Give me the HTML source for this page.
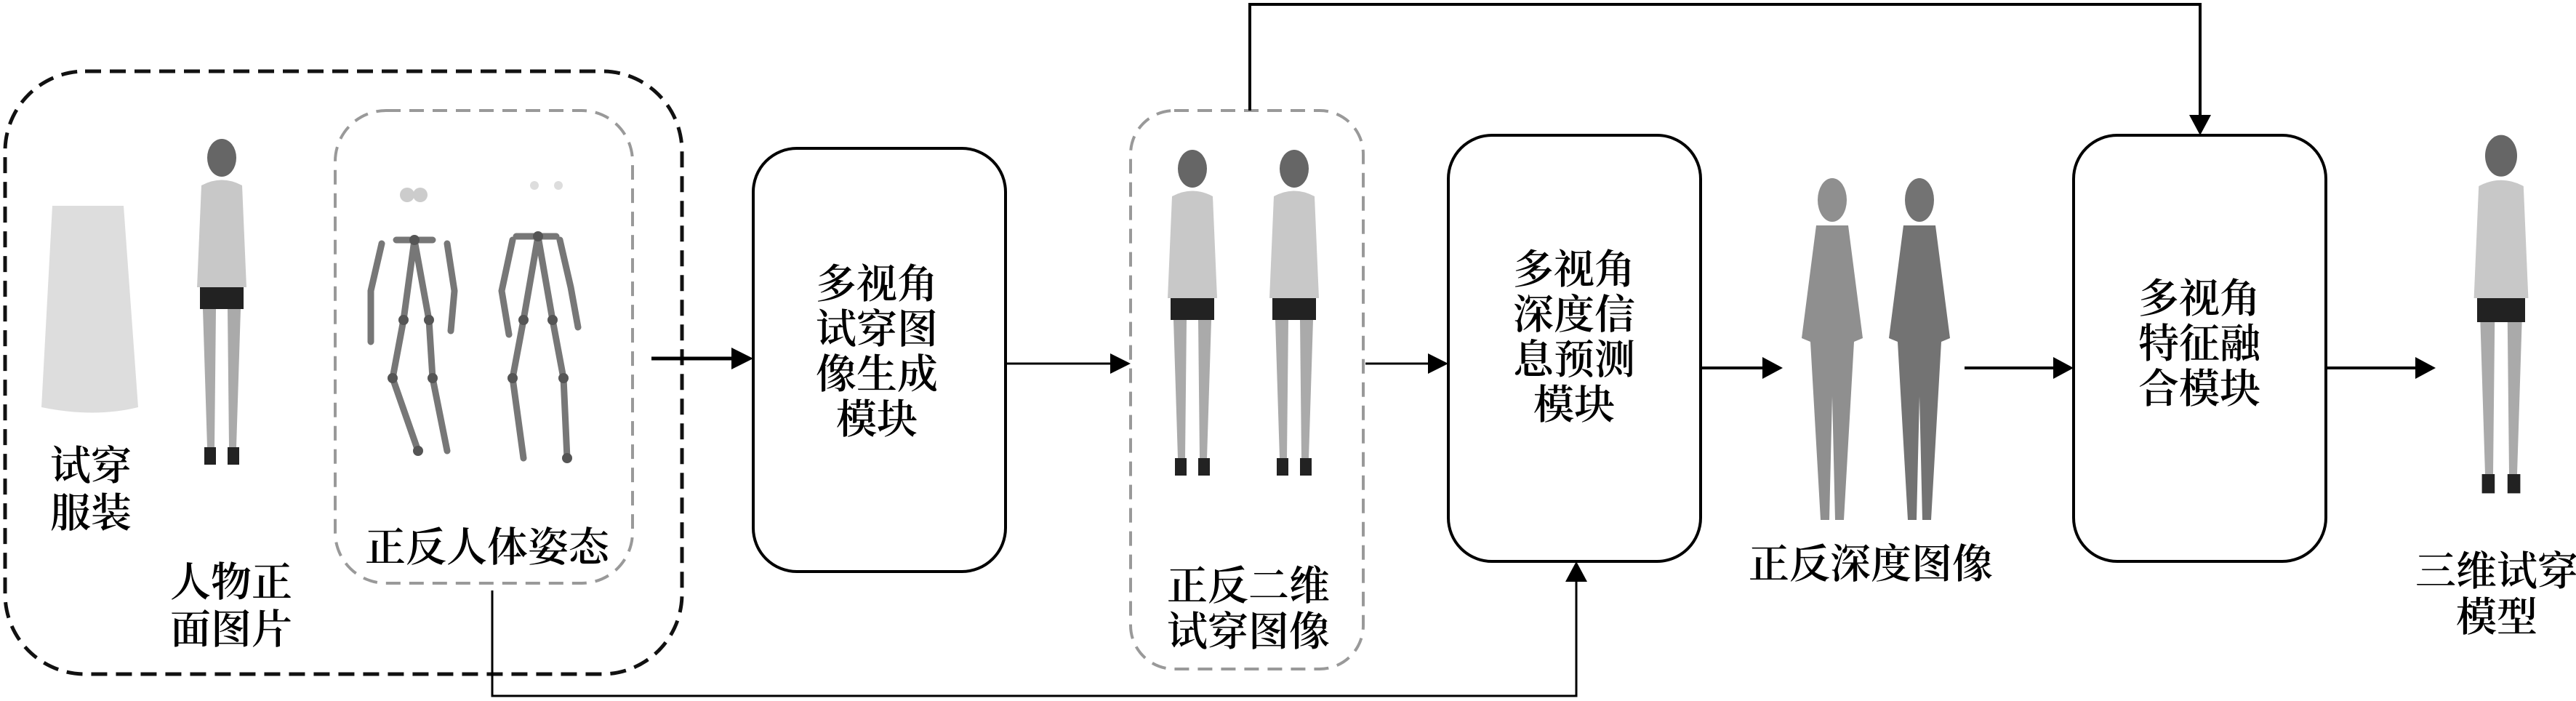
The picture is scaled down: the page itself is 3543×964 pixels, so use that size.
<!DOCTYPE html>
<html><head><meta charset="utf-8"><style>
html,body{margin:0;padding:0;background:#fff;width:3543px;height:964px;overflow:hidden}
svg{display:block}
text{font-family:"Liberation Serif","Noto Serif CJK SC",serif;fill:#000;font-size:56px;font-weight:600;text-anchor:middle}
</style></head><body>
<svg width="3543" height="964" viewBox="0 0 3543 964" xmlns="http://www.w3.org/2000/svg">
<defs>
<g id="person">
 <ellipse cx="0" cy="22" rx="20" ry="26" fill="#666"/>
 <path d="M-28 60 Q0 45 28 60 L34 200 L-34 200 Z" fill="#c8c8c8"/>
 <rect x="-30" y="200" width="60" height="30" fill="#222"/>
 <path d="M-26 230 L-8 230 L-10 420 L-20 420 Z M8 230 L26 230 L20 420 L10 420 Z" fill="#aaa"/>
 <rect x="-24" y="420" width="16" height="24" fill="#222"/><rect x="8" y="420" width="16" height="24" fill="#222"/>
</g>
<g id="sil">
 <ellipse cx="0" cy="30" rx="20" ry="30" fill="currentColor"/>
 <path d="M-22 65 L22 65 L42 220 L30 225 L28 260 L16 470 L4 470 L0 300 L-4 470 L-16 470 L-28 260 L-30 225 L-42 220 Z" fill="currentColor"/>
</g>
</defs>

<rect x="7" y="98" width="931" height="829" rx="110" fill="none" stroke="#111" stroke-width="5" stroke-dasharray="22,12"/>
<rect x="461" y="152" width="409" height="650" rx="70" fill="none" stroke="#999" stroke-width="4" stroke-dasharray="20,12"/>
<rect x="1555" y="152" width="320" height="768" rx="60" fill="none" stroke="#999" stroke-width="4" stroke-dasharray="20,12"/>

<path d="M72 283 L170 283 L190 560 Q130 575 57 560 Z" fill="#ddd"/>
<text x="125" y="660">试穿</text>
<text x="125" y="725">服装</text>
<g transform="translate(305,195)"><use href="#person"/></g>
<text x="318" y="820">人物正</text>
<text x="318" y="885">面图片</text>

<g stroke="#777" stroke-width="9" fill="none" stroke-linecap="round">
 <path d="M545 330 L595 330 M570 330 L555 440 L540 520 L575 620 M570 330 L590 440 L595 520 L615 620 M525 335 L510 400 L510 470 M615 335 L625 400 L620 455"/>
 <path d="M710 325 L765 325 M740 325 L720 440 L705 520 L720 630 M740 325 L760 440 L775 520 L780 630 M705 330 L690 400 L700 460 M770 330 L785 395 L795 450"/>
</g>
<g fill="#555">
 <circle cx="570" cy="330" r="7"/><circle cx="555" cy="440" r="7"/><circle cx="590" cy="440" r="7"/><circle cx="540" cy="520" r="7"/><circle cx="595" cy="520" r="7"/><circle cx="575" cy="620" r="7"/>
 <circle cx="740" cy="325" r="7"/><circle cx="720" cy="440" r="7"/><circle cx="760" cy="440" r="7"/><circle cx="705" cy="520" r="7"/><circle cx="775" cy="520" r="7"/><circle cx="780" cy="630" r="7"/>
</g>
<circle cx="560" cy="268" r="10" fill="#ccc"/><circle cx="578" cy="268" r="10" fill="#ccc"/><circle cx="735" cy="255" r="6" fill="#ddd"/><circle cx="768" cy="255" r="6" fill="#ddd"/>
<text x="670" y="772">正反人体姿态</text>

<rect x="1036" y="204" width="347" height="582" rx="60" fill="none" stroke="#000" stroke-width="4"/>
<text x="1206" y="410">多视角</text>
<text x="1206" y="472">试穿图</text>
<text x="1206" y="534">像生成</text>
<text x="1206" y="596">模块</text>

<g transform="translate(1640,210)"><use href="#person"/></g>
<g transform="translate(1780,210)"><use href="#person"/></g>
<text x="1717" y="825">正反二维</text>
<text x="1717" y="888">试穿图像</text>

<rect x="1992" y="186" width="347" height="586" rx="60" fill="none" stroke="#000" stroke-width="4"/>
<text x="2165" y="390">多视角</text>
<text x="2165" y="452">深度信</text>
<text x="2165" y="514">息预测</text>
<text x="2165" y="576">模块</text>

<g transform="translate(2520,245)" style="color:#8f8f8f"><use href="#sil"/></g>
<g transform="translate(2640,245)" style="color:#737373"><use href="#sil"/></g>
<text x="2573" y="795">正反深度图像</text>

<rect x="2852" y="186" width="347" height="586" rx="60" fill="none" stroke="#000" stroke-width="4"/>
<text x="3025" y="430">多视角</text>
<text x="3025" y="492">特征融</text>
<text x="3025" y="554">合模块</text>

<g transform="translate(3440,190) scale(1.1)"><use href="#person"/></g>
<text x="3434" y="805">三维试穿</text>
<text x="3434" y="868">模型</text>

<g stroke="#000" fill="none">
 <line x1="896" y1="493" x2="1010" y2="493" stroke-width="5"/>
 <line x1="1383" y1="500" x2="1530" y2="500" stroke-width="3"/>
 <line x1="1878" y1="500" x2="1966" y2="500" stroke-width="3"/>
 <line x1="2339" y1="506" x2="2426" y2="506" stroke-width="4"/>
 <line x1="2702" y1="506" x2="2826" y2="506" stroke-width="4"/>
 <line x1="3199" y1="506" x2="3324" y2="506" stroke-width="4"/>
 <polyline points="1719,152 1719,6 3026,6 3026,160" stroke-width="4"/>
 <polyline points="677,812 677,957 2168,957 2168,798" stroke-width="3"/>
</g>
<g fill="#000">
 <polygon points="1036,493 1006,478 1006,508"/>
 <polygon points="1555,500 1527,486 1527,514"/>
 <polygon points="1992,500 1964,486 1964,514"/>
 <polygon points="2452,506 2424,491 2424,521"/>
 <polygon points="2852,506 2824,491 2824,521"/>
 <polygon points="3350,506 3322,491 3322,521"/>
 <polygon points="3026,186 3011,158 3041,158"/>
 <polygon points="2168,772 2153,800 2183,800"/>
</g>
</svg>
</body></html>
